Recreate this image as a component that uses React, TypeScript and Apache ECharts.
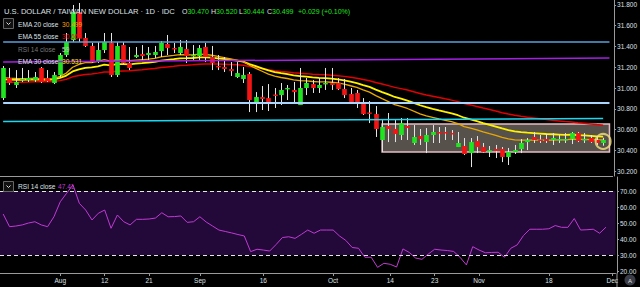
import React, { useEffect, useRef } from 'react';
import * as echarts from 'echarts';

// ---------- data ----------
const START_DATE = '2019-07-19';
const SLOT_COUNT = 97; // trading days Jul 19 – Dec 2 (last slot empty)

const tickLabels: Record<string, string> = {
  '2019-08-01': 'Aug', '2019-08-12': '12', '2019-08-21': '21', '2019-09-02': 'Sep',
  '2019-09-16': '16', '2019-10-01': 'Oct', '2019-10-14': '14', '2019-10-23': '23',
  '2019-11-01': 'Nov', '2019-11-18': '18', '2019-12-02': 'Dec',
};

const opens = [
  30.903, 31.096, 31.029, 31.082, 31.077, 31.077, 31.193, 31.096, 31.048, 31.125,
  31.318, 31.462, 31.732, 31.482, 31.405, 31.250, 31.366, 31.434, 31.125, 31.414,
  31.241, 31.299, 31.327, 31.318, 31.318, 31.356, 31.424, 31.385, 31.337, 31.376,
  31.308, 31.308, 31.395, 31.299, 31.212, 31.202, 31.183, 31.106, 31.087, 31.135,
  30.865, 30.913, 30.903, 30.937, 30.932, 30.995, 30.981, 30.836, 31.000, 31.038,
  31.000, 31.038, 31.048, 31.048, 30.990, 30.942, 30.952, 30.865, 30.764, 30.749,
  30.499, 30.634, 30.605, 30.547, 30.634, 30.470, 30.537, 30.479, 30.547, 30.576,
  30.576, 30.566, 30.431, 30.441, 30.373, 30.489, 30.431, 30.397, 30.412, 30.412,
  30.335, 30.383, 30.412, 30.479, 30.528, 30.503, 30.508, 30.499, 30.503, 30.503,
  30.508, 30.566, 30.499, 30.518, 30.499, 30.470,
];
const highs = [
  31.212, 31.193, 31.173, 31.193, 31.173, 31.154, 31.202, 31.173, 31.154, 31.337,
  31.530, 31.800, 31.819, 31.530, 31.434, 31.443, 31.530, 31.530, 31.443, 31.443,
  31.395, 31.395, 31.414, 31.395, 31.405, 31.453, 31.511, 31.434, 31.462, 31.462,
  31.414, 31.414, 31.434, 31.405, 31.318, 31.299, 31.250, 31.250, 31.202, 31.154,
  30.961, 31.019, 31.038, 31.000, 31.048, 31.029, 31.058, 31.193, 31.096, 31.077,
  31.096, 31.193, 31.193, 31.096, 31.087, 31.000, 30.981, 30.903, 30.874, 30.826,
  30.691, 30.759, 30.701, 30.711, 30.711, 30.643, 30.605, 30.614, 30.643, 30.624,
  30.624, 30.595, 30.576, 30.518, 30.518, 30.537, 30.470, 30.441, 30.451, 30.431,
  30.422, 30.451, 30.508, 30.518, 30.576, 30.547, 30.556, 30.566, 30.547, 30.566,
  30.576, 30.576, 30.566, 30.547, 30.528, 30.520,
];
const lows = [
  30.884, 31.029, 31.000, 31.058, 31.058, 31.058, 31.048, 31.058, 31.038, 31.106,
  31.299, 31.443, 31.443, 31.395, 31.241, 31.241, 31.337, 31.106, 31.106, 31.231,
  31.173, 31.289, 31.270, 31.270, 31.289, 31.299, 31.318, 31.337, 31.318, 31.241,
  31.270, 31.270, 31.250, 31.173, 31.173, 31.154, 31.116, 31.096, 31.048, 30.768,
  30.768, 30.788, 30.778, 30.807, 30.836, 30.884, 30.865, 30.836, 30.932, 30.952,
  30.952, 30.981, 30.981, 30.981, 30.903, 30.855, 30.807, 30.740, 30.662, 30.528,
  30.383, 30.479, 30.479, 30.499, 30.499, 30.451, 30.451, 30.373, 30.470, 30.470,
  30.499, 30.499, 30.431, 30.354, 30.238, 30.373, 30.378, 30.335, 30.325, 30.286,
  30.258, 30.364, 30.373, 30.402, 30.470, 30.470, 30.470, 30.451, 30.470, 30.470,
  30.460, 30.479, 30.470, 30.470, 30.451, 30.444,
];
const closes = [
  31.193, 31.048, 31.058, 31.087, 31.096, 31.106, 31.058, 31.067, 31.125, 31.318,
  31.443, 31.732, 31.482, 31.405, 31.250, 31.366, 31.443, 31.125, 31.405, 31.241,
  31.193, 31.318, 31.308, 31.337, 31.347, 31.434, 31.385, 31.376, 31.395, 31.308,
  31.318, 31.385, 31.299, 31.241, 31.202, 31.183, 31.164, 31.144, 31.125, 30.884,
  30.913, 30.894, 30.865, 30.927, 30.981, 31.000, 30.961, 31.000, 31.048, 31.000,
  31.029, 31.048, 31.029, 30.990, 30.932, 30.865, 30.855, 30.749, 30.754, 30.605,
  30.624, 30.605, 30.556, 30.662, 30.614, 30.528, 30.508, 30.547, 30.576, 30.561,
  30.561, 30.552, 30.470, 30.364, 30.479, 30.431, 30.383, 30.402, 30.393, 30.335,
  30.383, 30.402, 30.470, 30.499, 30.499, 30.494, 30.489, 30.518, 30.508, 30.508,
  30.566, 30.489, 30.508, 30.479, 30.470, 30.499,
];

const rsi14 = [
  55.6, 47.7, 48.1, 48.8, 50.0, 50.8, 48.8, 47.7, 53.9, 63.3,
  68.6, 73.8, 62.3, 58.1, 51.9, 56.1, 58.1, 46.7, 55.0, 50.8,
  48.8, 52.3, 52.3, 52.5, 53.1, 56.4, 53.9, 54.0, 54.4, 50.4,
  50.8, 53.9, 50.6, 48.1, 45.6, 44.7, 43.8, 42.8, 41.9, 32.1,
  33.6, 33.1, 32.5, 36.5, 40.9, 41.4, 40.4, 42.9, 45.6, 43.6,
  45.6, 45.6, 45.6, 41.9, 39.1, 34.7, 34.2, 28.6, 28.6, 22.3,
  24.8, 24.2, 22.5, 33.8, 31.6, 28.1, 27.3, 30.6, 33.6, 33.1,
  32.8, 32.2, 28.6, 23.8, 35.2, 33.1, 31.4, 31.6, 31.7, 28.6,
  34.2, 36.3, 42.2, 46.1, 46.1, 46.1, 46.4, 48.4, 47.3, 47.3,
  52.8, 45.6, 45.8, 46.1, 43.6, 47.41,
];

// EMA values just before the first visible bar
const emaSeeds = { ema20: 31.09, ema30: 31.075, ema55: 31.05 };

const priceTicks = [30.2, 30.4, 30.6, 30.8, 31.0, 31.2, 31.4, 31.6, 31.8];
const rsiTicks = [20, 30, 40, 50, 60, 70];
const rsiBand = [30, 70];

// drawings on the price pane
const blueLevel = 31.448;
const purpleTrend = [31.25, 31.289];
const lightBlueLevel = 30.86;
const cyanTrend = [30.677, 30.707];
const boxRange = { fromIdx: 60, toIdx: 96, top: 30.653, bottom: 30.383 };
const circlePoint = { idx: 95, price: 30.485 };

const lastClose = 30.499;
const headerOHLC = { o: '30.470', h: '30.520', l: '30.444', c: '30.499', chg: '+0.029 (+0.10%)' };
const legendValues = { ema20: '30.499', ema55: '30.663', rsiOverlay: '59', ema30: '30.531', rsi: '47.41' };

// ---------- helpers ----------
function weekdays(start: string, n: number): string[] {
  const out: string[] = [];
  const d = new Date(start + 'T00:00:00Z');
  while (out.length < n) {
    const wd = d.getUTCDay();
    if (wd !== 0 && wd !== 6) out.push(d.toISOString().slice(0, 10));
    d.setUTCDate(d.getUTCDate() + 1);
  }
  return out;
}
function ema(values: number[], period: number, seed: number): number[] {
  const k = 2 / (period + 1);
  let prev = seed;
  return values.map((v) => {
    prev = k * v + (1 - k) * prev;
    return +prev.toFixed(4);
  });
}

const FONT = '"Liberation Sans", Arial, sans-serif';
const GREEN = '#1fe41f';
const RED = '#f31414';
const AXIS_GREY = '#9a9a9a';
const TEXT = '#dfe1e6';

export default function App() {
  const ref = useRef<HTMLDivElement>(null);
  useEffect(() => {
    document.body.style.margin = '0';
    document.body.style.background = '#000';
    if (!ref.current) return;
    const chart = echarts.init(ref.current, undefined, { renderer: 'svg' });
    const cats = weekdays(START_DATE, SLOT_COUNT);
    const candleData = opens.map((o, i) => [i, o, highs[i], lows[i], closes[i]]);
    const ema20 = ema(closes, 20, emaSeeds.ema20);
    const ema30 = ema(closes, 30, emaSeeds.ema30);
    const ema55 = ema(closes, 55, emaSeeds.ema55);
    const showTick = (_i: number, v: string) => v in tickLabels;

    const legendRow = (y: number, name: string, value: string, nameColor: string, valueColor: string) => [
      { type: 'text', x: 18, y, z: 100, style: { text: name, fill: nameColor, font: `6.6px ${FONT}`, verticalAlign: 'middle' } },
      { type: 'text', x: 62, y, z: 100, style: { text: value, fill: valueColor, font: `6.6px ${FONT}`, verticalAlign: 'middle' } },
    ];
    const button = (y: number) => [
      { type: 'rect', z: 100, shape: { x: 3.5, y: y - 5, width: 10, height: 10 }, style: { fill: '#111', stroke: '#666', lineWidth: 1 } },
      { type: 'polyline', z: 101, shape: { points: [[6.5, y - 1], [8.5, y + 1], [10.5, y - 1]] }, style: { stroke: '#ddd', lineWidth: 1, fill: 'none' } },
    ];
    const ohlcText = (x: number, letter: string, val: string) => ({
      type: 'text', x, y: 11.5, z: 100,
      style: {
        text: `{l|${letter}}{v|${val}}`, verticalAlign: 'middle',
        rich: { l: { fill: TEXT, font: `7px ${FONT}` }, v: { fill: GREEN, font: `7px ${FONT}` } },
      },
    });

    const option: any = {
      animation: false,
      backgroundColor: '#000',
      grid: [
        { left: -1.5, width: 617, top: 0, height: 176 },
        { left: -1.5, width: 617, top: 177, height: 96 },
      ],
      xAxis: [
        {
          type: 'category', gridIndex: 0, data: cats, boundaryGap: true,
          axisLine: { show: true, lineStyle: { color: AXIS_GREY, width: 1 } },
          axisTick: { show: false }, axisLabel: { show: false }, splitLine: { show: false },
        },
        {
          type: 'category', gridIndex: 1, data: cats, boundaryGap: true,
          axisLine: { show: true, lineStyle: { color: AXIS_GREY, width: 1 } },
          axisTick: { show: true, alignWithLabel: true, interval: showTick, length: 3, lineStyle: { color: AXIS_GREY } },
          axisLabel: {
            interval: showTick, formatter: (v: string) => tickLabels[v] ?? '',
            color: TEXT, fontSize: 6.5, fontFamily: FONT, margin: 4,
          },
          splitLine: { show: false },
        },
      ],
      yAxis: [
        {
          type: 'value', gridIndex: 0, position: 'right', offset: 1.5, min: 30.152, max: 31.848,
          splitLine: { show: false },
          axisLine: { show: true, lineStyle: { color: AXIS_GREY, width: 1 } },
          axisTick: { show: true, customValues: priceTicks, length: 2, lineStyle: { color: AXIS_GREY } },
          axisLabel: { customValues: priceTicks, formatter: (v: number) => v.toFixed(3), color: TEXT, fontSize: 6.5, fontFamily: FONT, margin: 3 },
        },
        {
          type: 'value', gridIndex: 1, position: 'right', offset: 1.5, min: 18.75, max: 78.75,
          splitLine: { show: false },
          axisLine: { show: true, lineStyle: { color: AXIS_GREY, width: 1 } },
          axisTick: { show: true, customValues: rsiTicks, length: 2, lineStyle: { color: AXIS_GREY } },
          axisLabel: { customValues: rsiTicks, formatter: (v: number) => v.toFixed(2), color: TEXT, fontSize: 6.5, fontFamily: FONT, margin: 3 },
        },
      ],
      series: [
        {
          name: 'box', type: 'line', xAxisIndex: 0, yAxisIndex: 0, data: [], z: 1, silent: true,
          markArea: {
            silent: true,
            itemStyle: { color: 'rgba(120,112,106,0.72)', borderColor: '#e6bcc4', borderWidth: 1.5 },
            data: [[{ coord: [cats[boxRange.fromIdx], boxRange.top] }, { coord: [cats[boxRange.toIdx], boxRange.bottom] }]],
          },
        },
        {
          name: 'EMA 55', type: 'line', xAxisIndex: 0, yAxisIndex: 0, data: ema55, showSymbol: false, z: 2,
          lineStyle: { color: '#e20000', width: 1.5 }, silent: true,
        },
        {
          name: 'EMA 30', type: 'line', xAxisIndex: 0, yAxisIndex: 0, data: ema30, showSymbol: false, z: 2,
          lineStyle: { color: '#fff200', width: 1.8 }, silent: true,
        },
        {
          name: 'EMA 20', type: 'line', xAxisIndex: 0, yAxisIndex: 0, data: ema20, showSymbol: false, z: 2,
          lineStyle: { color: '#e8a800', width: 1.3 }, silent: true,
        },
        {
          name: 'candles', type: 'custom', xAxisIndex: 0, yAxisIndex: 0, data: candleData, z: 3,
          encode: { x: 0, y: [1, 2, 3, 4] },
          renderItem: (_p: any, api: any) => {
            const idx = api.value(0);
            const o = api.value(1), h = api.value(2), l = api.value(3), c = api.value(4);
            const pO = api.coord([idx, o]);
            const pC = api.coord([idx, c]);
            const pH = api.coord([idx, h]);
            const pL = api.coord([idx, l]);
            const w = api.size([1, 0])[0] * 0.74;
            const xc = Math.round(pO[0]) + 0.5;
            const top = Math.min(pO[1], pC[1]);
            const hgt = Math.max(Math.abs(pO[1] - pC[1]), 1.4);
            return {
              type: 'group',
              children: [
                { type: 'line', shape: { x1: xc, y1: pH[1], x2: xc, y2: pL[1] }, style: { stroke: '#e4e4e4', lineWidth: 1 } },
                { type: 'rect', shape: { x: xc - w / 2, y: top, width: w, height: hgt }, style: { fill: c >= o ? GREEN : RED } },
              ],
            };
          },
          markLine: {
            silent: true, symbol: 'none',
            lineStyle: { opacity: 0 },
            label: {
              show: true, position: 'end', distance: 1.5, formatter: lastClose.toFixed(3),
              backgroundColor: '#10e010', color: '#e6ffe6', fontSize: 6.5, fontFamily: FONT, padding: [2, 3, 1, 3],
            },
            data: [{ yAxis: lastClose }],
          },
        },
        {
          name: 'drawings', type: 'line', xAxisIndex: 0, yAxisIndex: 0, data: [], z: 4, silent: true,
          markLine: {
            silent: true, symbol: 'none', label: { show: false },
            data: [
              [{ coord: [cats[0], blueLevel], lineStyle: { color: '#5d9fdc', width: 1.5, type: 'solid' } }, { coord: [cats[96], blueLevel] }],
              [{ coord: [cats[0], purpleTrend[0]], lineStyle: { color: '#a61fe6', width: 1.5, type: 'solid' } }, { coord: [cats[96], purpleTrend[1]] }],
              [{ coord: [cats[0], lightBlueLevel], lineStyle: { color: '#a9d6ff', width: 2, type: 'solid' } }, { coord: [cats[96], lightBlueLevel] }],
              [{ coord: [cats[0], cyanTrend[0]], lineStyle: { color: '#1ad8f0', width: 1.5, type: 'solid' } }, { coord: [cats[95], cyanTrend[1]] }],
            ],
          },
        },
        {
          name: 'marker', type: 'scatter', xAxisIndex: 0, yAxisIndex: 0, z: 5, silent: true,
          data: [[circlePoint.idx, circlePoint.price]], symbol: 'circle', symbolSize: 15,
          itemStyle: { color: 'rgba(0,0,0,0)', borderColor: '#f3e27a', borderWidth: 2 },
        },
        {
          name: 'RSI 14', type: 'line', xAxisIndex: 1, yAxisIndex: 1, data: rsi14, showSymbol: false, z: 3,
          lineStyle: { color: '#c23ad2', width: 1 }, silent: true,
          markArea: {
            silent: true, itemStyle: { color: '#22093a' },
            data: [[{ yAxis: rsiBand[0] }, { yAxis: rsiBand[1] }]],
          },
          markLine: {
            silent: true, symbol: 'none', label: { show: false },
            lineStyle: { color: '#e6e6e6', width: 1, type: [4, 3] },
            data: rsiBand.map((v) => ({ yAxis: v })),
          },
        },
      ],
      graphic: [
        {
          type: 'text', x: 4, y: 11.5, z: 100,
          style: { text: 'U.S. DOLLAR / TAIWAN NEW DOLLAR · 1D · IDC', fill: TEXT, font: `7.6px ${FONT}`, verticalAlign: 'middle' },
        },
        ohlcText(182, 'O', headerOHLC.o),
        ohlcText(211, 'H', headerOHLC.h),
        ohlcText(239, 'L', headerOHLC.l),
        ohlcText(267, 'C', headerOHLC.c),
        { type: 'text', x: 298, y: 11.5, z: 100, style: { text: headerOHLC.chg, fill: GREEN, font: `7px ${FONT}`, verticalAlign: 'middle' } },
        ...button(23.5),
        ...legendRow(24.5, 'EMA 20 close', legendValues.ema20, TEXT, '#f0a010'),
        ...legendRow(36, 'EMA 55 close', legendValues.ema55, TEXT, '#e01010'),
        ...legendRow(49, 'RSI 14 close', legendValues.rsiOverlay, '#777', '#ccc'),
        ...legendRow(61.5, 'EMA 30 close', legendValues.ema30, TEXT, '#f2e400'),
        ...button(186.5),
        { type: 'text', x: 18, y: 186.5, z: 100, style: { text: 'RSI 14 close', fill: TEXT, font: `6.6px ${FONT}`, verticalAlign: 'middle' } },
        { type: 'text', x: 58, y: 186.5, z: 100, style: { text: legendValues.rsi, fill: '#c53ad6', font: `6.6px ${FONT}`, verticalAlign: 'middle' } },
        { type: 'line', z: 100, shape: { x1: 617, y1: 273, x2: 617, y2: 287 }, style: { stroke: AXIS_GREY, lineWidth: 1 } },
        { type: 'circle', z: 100, shape: { cx: 630, cy: 280, r: 5.5 }, style: { fill: '#3a3d48' } },
        { type: 'text', x: 630, y: 280.5, z: 101, style: { text: 'A', fill: '#e0e0e0', font: `6px ${FONT}`, align: 'center', verticalAlign: 'middle' } },
      ],
    };
    chart.setOption(option);
    return () => chart.dispose();
  }, []);
  return <div ref={ref} style={{ width: 640, height: 287, position: 'fixed', left: 0, top: 0 }} />;
}
